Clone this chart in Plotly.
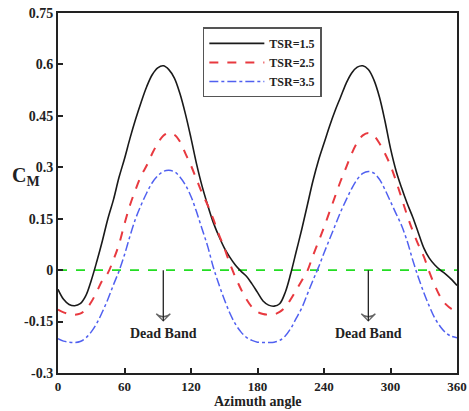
import plotly.graph_objects as go

angle = list(range(0, 361, 5))

cm_tsr15 = [-0.056, -0.085, -0.100, -0.104, -0.098, -0.075, -0.030, 0.025, 0.085, 0.150,
            0.205, 0.270, 0.325, 0.385, 0.440, 0.490, 0.535, 0.570, 0.590, 0.596,
            0.585, 0.560, 0.515, 0.455, 0.385, 0.310, 0.245, 0.190, 0.140, 0.100,
            0.065, 0.038, 0.015, -0.003, -0.018, -0.040, -0.065, -0.090, -0.102, -0.105,
            -0.098, -0.065, -0.010, 0.055, 0.120, 0.190, 0.260, 0.320, 0.370, 0.420,
            0.465, 0.505, 0.545, 0.575, 0.592, 0.596, 0.585, 0.555, 0.505, 0.435,
            0.355, 0.290, 0.240, 0.195, 0.155, 0.110, 0.065, 0.035, 0.015, 0.000,
            -0.012, -0.027, -0.045]

cm_tsr25 = [-0.115, -0.123, -0.128, -0.130, -0.127, -0.115, -0.093, -0.063, -0.030, -0.008,
            0.030, 0.075, 0.135, 0.190, 0.235, 0.275, 0.305, 0.340, 0.370, 0.392,
            0.400, 0.395, 0.375, 0.340, 0.305, 0.265, 0.225, 0.190, 0.150, 0.105,
            0.065, 0.020, -0.020, -0.055, -0.085, -0.108, -0.122, -0.128, -0.130, -0.129,
            -0.122, -0.108, -0.085, -0.058, -0.030, -0.002, 0.042, 0.083, 0.125, 0.170,
            0.215, 0.260, 0.300, 0.340, 0.372, 0.393, 0.400, 0.392, 0.370, 0.340,
            0.305, 0.260, 0.210, 0.160, 0.115, 0.075, 0.040, -0.005, -0.045, -0.078,
            -0.100, -0.113, -0.120]

cm_tsr35 = [-0.200, -0.207, -0.210, -0.211, -0.208, -0.198, -0.180, -0.155, -0.122, -0.085,
            -0.043, -0.003, 0.045, 0.100, 0.150, 0.190, 0.225, 0.255, 0.275, 0.288,
            0.291, 0.287, 0.272, 0.248, 0.215, 0.170, 0.120, 0.070, 0.010, -0.040,
            -0.085, -0.125, -0.157, -0.180, -0.196, -0.205, -0.210, -0.211, -0.211, -0.210,
            -0.205, -0.192, -0.170, -0.140, -0.110, -0.070, -0.030, 0.008, 0.050, 0.090,
            0.130, 0.170, 0.205, 0.238, 0.265, 0.282, 0.288, 0.283, 0.265, 0.235,
            0.200, 0.165, 0.130, 0.085, 0.030, -0.020, -0.065, -0.105, -0.140, -0.165,
            -0.183, -0.193, -0.197]

zero_x = [0, 360]
zero_y = [0, 0]

x_ticks = [0, 60, 120, 180, 240, 300, 360]
x_tick_text = ["0", "60", "120", "180", "240", "300", "360"]
y_ticks = [-0.3, -0.15, 0, 0.15, 0.3, 0.45, 0.6, 0.75]
y_tick_text = ["-0.3", "-0.15", "0", "0.15", "0.3", "0.45", "0.6", "0.75"]

dead_band_x = [95, 280]
dead_band_arrow_top = 0
dead_band_arrow_end = -0.148
dead_band_label_y = -0.185

FONT = "Liberation Serif"
INK = "#222"


def b(s):
    return "<b>" + s + "</b>"


fig = go.Figure()
fig.add_trace(go.Scatter(x=zero_x, y=zero_y, mode="lines", showlegend=False,
                         line=dict(color="#22dd22", width=1.8, dash="dash")))
fig.add_trace(go.Scatter(x=angle, y=cm_tsr15, mode="lines", name=b("TSR=1.5"),
                         line=dict(color="#1a1a1a", width=1.6, shape="spline")))
fig.add_trace(go.Scatter(x=angle, y=cm_tsr25, mode="lines", name=b("TSR=2.5"),
                         line=dict(color="#e8393f", width=2, dash="dash", shape="spline")))
fig.add_trace(go.Scatter(x=angle, y=cm_tsr35, mode="lines", name=b("TSR=3.5"),
                         line=dict(color="#5060f0", width=1.5, dash="dashdot", shape="spline")))

for xv in dead_band_x:
    fig.add_trace(go.Scatter(x=[xv, xv], y=[dead_band_arrow_top, dead_band_arrow_end],
                             mode="lines+markers", showlegend=False, hoverinfo="skip",
                             line=dict(color=INK, width=1.3),
                             marker=dict(symbol=["circle", "arrow-wide-open"], size=[0, 10],
                                         angleref="previous", color=INK,
                                         line=dict(color=INK, width=1.3))))
    fig.add_annotation(x=xv, y=dead_band_label_y, xref="x", yref="y", showarrow=False,
                       text=b("Dead Band"), font=dict(family=FONT, size=14, color=INK))

fig.add_annotation(x=-0.12, y=0.272, xref="paper", yref="y", xanchor="left", yanchor="middle",
                   showarrow=False, text=b("C<sub>M</sub>"),
                   font=dict(family=FONT, size=20, color=INK))

fig.add_annotation(x=0.5, y=-0.103, xref="paper", yref="paper", xanchor="center",
                   yanchor="bottom", showarrow=False, text=b("Azimuth angle"), borderpad=0,
                   font=dict(family=FONT, size=14, color=INK))

fig.update_layout(
    width=469, height=411,
    margin=dict(l=58, r=12, t=13, b=38),
    paper_bgcolor="white", plot_bgcolor="white",
    showlegend=True,
    legend=dict(x=0.363, y=0.96, xanchor="left", yanchor="top",
                bgcolor="white", bordercolor="#555", borderwidth=1.5,
                font=dict(family=FONT, size=12, color=INK),
                itemwidth=55, tracegroupgap=0),
    xaxis=dict(range=[0, 360], tickvals=x_ticks, ticktext=[b(t) for t in x_tick_text],
               ticks="inside", ticklen=5, tickwidth=1.5, automargin=False,
               tickcolor=INK, showline=True, linecolor=INK, linewidth=2, mirror=True,
               showgrid=False, zeroline=False,
               tickfont=dict(family=FONT, size=13, color=INK)),
    yaxis=dict(range=[-0.3, 0.75], tickvals=y_ticks, ticktext=[b(t) for t in y_tick_text],
               ticks="inside", automargin=False,
               ticklen=5, tickwidth=1.5, tickcolor=INK, showline=True, linecolor=INK,
               linewidth=2, mirror=True, showgrid=False, zeroline=False,
               tickfont=dict(family=FONT, size=14, color=INK)),
)

fig.write_html("out.html")
